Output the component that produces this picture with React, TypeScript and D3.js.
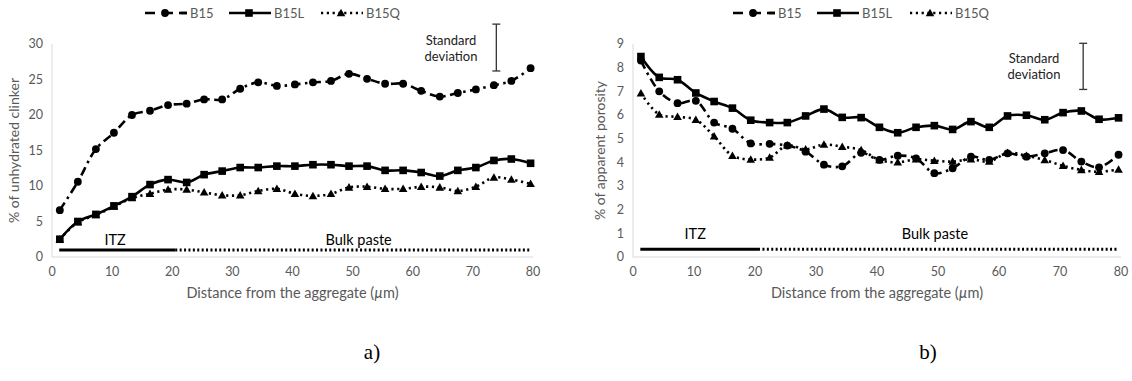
import React from "react";
import * as d3 from "d3";

// distances from the aggregate (µm)
const distances = [1.3, 4.3, 7.3, 10.3, 13.3, 16.3, 19.3, 22.4, 25.3, 28.3, 31.3, 34.3, 37.4, 40.4, 43.4, 46.4, 49.4, 52.4, 55.4, 58.4, 61.4, 64.5, 67.5, 70.5, 73.5, 76.4, 79.6];

// a) % of unhydrated clinker
const clinkerB15 = [6.6, 10.6, 15.2, 17.5, 20.0, 20.6, 21.4, 21.6, 22.2, 22.2, 23.7, 24.6, 24.1, 24.3, 24.6, 24.8, 25.8, 25.1, 24.4, 24.4, 23.4, 22.6, 23.1, 23.6, 24.2, 24.8, 26.6];
const clinkerB15L = [2.5, 5.0, 6.0, 7.2, 8.5, 10.2, 10.9, 10.5, 11.6, 12.1, 12.6, 12.6, 12.8, 12.8, 13.0, 13.0, 12.8, 12.8, 12.2, 12.2, 11.9, 11.4, 12.2, 12.6, 13.6, 13.8, 13.2];
const clinkerB15Q = [2.5, 4.9, 5.9, 7.1, 8.3, 8.9, 9.5, 9.5, 9.1, 8.7, 8.7, 9.3, 9.6, 8.9, 8.6, 8.9, 9.8, 9.9, 9.6, 9.6, 9.9, 9.8, 9.3, 9.9, 11.2, 10.9, 10.3];

// b) % of apparent porosity
const porosityB15 = [8.3, 7.0, 6.5, 6.6, 5.68, 5.42, 4.8, 4.78, 4.71, 4.45, 3.9, 3.83, 4.4, 4.1, 4.28, 4.17, 3.54, 3.75, 4.24, 4.1, 4.38, 4.24, 4.38, 4.52, 4.03, 3.79, 4.32];
const porosityB15L = [8.47, 7.59, 7.49, 6.93, 6.57, 6.29, 5.78, 5.68, 5.68, 5.96, 6.25, 5.9, 5.89, 5.48, 5.25, 5.48, 5.55, 5.39, 5.72, 5.48, 5.96, 5.99, 5.8, 6.1, 6.17, 5.82, 5.88];
const porosityB15Q = [6.92, 6.02, 5.92, 5.8, 5.1, 4.28, 4.12, 4.2, 4.72, 4.55, 4.75, 4.66, 4.52, 4.1, 4.0, 4.13, 4.07, 4.03, 4.13, 4.03, 4.4, 4.28, 4.1, 3.85, 3.68, 3.6, 3.7];

const seriesNames = ["B15", "B15L", "B15Q"];
const xTicks = [0, 10, 20, 30, 40, 50, 60, 70, 80];
const clinkerTicks = [0, 5, 10, 15, 20, 25, 30];
const porosityTicks = [0, 1, 2, 3, 4, 5, 6, 7, 8, 9];

const FONT = "Lato, 'Open Sans', sans-serif";
const GRAY = "#595959";
const AXIS = "#d9d9d9";

type Style = { dash: string; cap: "butt" | "round"; marker: "circle" | "square" | "triangle" };
const styles: Style[] = [
  { dash: "9 4.5 2.5 4.5", cap: "butt", marker: "circle" },
  { dash: "none", cap: "butt", marker: "square" },
  { dash: "2.2 3.6", cap: "butt", marker: "triangle" },
];

function Marker({ type, x, y }: { type: string; x: number; y: number }) {
  if (type === "circle") return <circle cx={x} cy={y} r={3.9} fill="#000" />;
  if (type === "square") return <rect x={x - 3.8} y={y - 3.8} width={7.6} height={7.6} fill="#000" />;
  const s = 4.3;
  return <path d={`M${x},${y - s}L${x + s},${y + s * 0.75}L${x - s},${y + s * 0.75}Z`} fill="#000" />;
}

type PanelProps = {
  x0: number; x1: number; yTop: number; yBot: number;
  yMax: number; yTicks: number[]; yTitle: string;
  data: number[][];
  legendX: number[];
  itzY: number; itzLabelX: number; bulkLabelX: number; labelY: number;
  sdX: number; sdLow: number; sdHigh: number; sdTextX: number; sdTextY: number;
  yTitleX: number; tag: string; tagX: number;
};

function Panel(p: PanelProps) {
  const x = d3.scaleLinear().domain([0, 80]).range([p.x0, p.x1]);
  const y = d3.scaleLinear().domain([0, p.yMax]).range([p.yBot, p.yTop]);
  const line = d3
    .line<number>()
    .x((_, i) => x(distances[i]))
    .y((d) => y(d))
    .curve(d3.curveCatmullRom.alpha(0.5));
  const legendY = 13;
  return (
    <g>
      <line x1={p.x0} x2={p.x0} y1={p.yTop} y2={p.yBot} stroke={AXIS} strokeWidth={1} />
      <line x1={p.x0} x2={p.x1} y1={p.yBot} y2={p.yBot} stroke={AXIS} strokeWidth={1} />
      {p.yTicks.map((t) => (
        <text key={"y" + t} x={p.x0 - 9} y={y(t)} dy="0.35em" textAnchor="end" fontSize={12.5} fill={GRAY} fontFamily={FONT}>
          {t}
        </text>
      ))}
      {xTicks.map((t) => (
        <text key={"x" + t} x={x(t)} y={p.yBot + 15} dy="0.35em" textAnchor="middle" fontSize={12.5} fill={GRAY} fontFamily={FONT}>
          {t}
        </text>
      ))}
      <text x={(p.x0 + p.x1) / 2} y={p.yBot + 36} dy="0.35em" textAnchor="middle" fontSize={14.5} fill={GRAY} fontFamily={FONT}>
        Distance from the aggregate (<tspan fontStyle="italic">µ</tspan>m)
      </text>
      <text
        transform={`translate(${p.yTitleX},${(p.yTop + p.yBot) / 2}) rotate(-90)`}
        dy="0.35em"
        textAnchor="middle"
        fontSize={14}
        fill={GRAY}
        fontFamily={FONT}
      >
        {p.yTitle}
      </text>

      <line x1={x(1.2)} x2={x(20.5)} y1={y(p.itzY)} y2={y(p.itzY)} stroke="#000" strokeWidth={3} />
      <line x1={x(20.5)} x2={x(79.6)} y1={y(p.itzY)} y2={y(p.itzY)} stroke="#000" strokeWidth={3} strokeDasharray="2 2.4" />
      <text x={x(p.itzLabelX)} y={y(p.labelY)} dy="0.35em" textAnchor="middle" fontSize={14.5} fill="#000" fontFamily={FONT}>
        ITZ
      </text>
      <text x={x(p.bulkLabelX)} y={y(p.labelY)} dy="0.35em" textAnchor="middle" fontSize={14.5} fill="#000" fontFamily={FONT}>
        Bulk paste
      </text>

      <g stroke="#333" strokeWidth={1.3}>
        <line x1={x(p.sdX)} x2={x(p.sdX)} y1={y(p.sdLow)} y2={y(p.sdHigh)} />
        <line x1={x(p.sdX) - 4} x2={x(p.sdX) + 4} y1={y(p.sdLow)} y2={y(p.sdLow)} />
        <line x1={x(p.sdX) - 4} x2={x(p.sdX) + 4} y1={y(p.sdHigh)} y2={y(p.sdHigh)} />
      </g>
      <text x={p.sdTextX} y={p.sdTextY} textAnchor="middle" fontSize={13} fill="#222" fontFamily={FONT}>
        <tspan x={p.sdTextX} dy="0">Standard</tspan>
        <tspan x={p.sdTextX} dy="16">deviation</tspan>
      </text>

      {p.data.map((vals, si) => (
        <g key={"s" + si}>
          <path
            d={line(vals) || ""}
            fill="none"
            stroke="#000"
            strokeWidth={2.6}
            strokeDasharray={styles[si].dash}
            strokeLinecap={styles[si].cap}
          />
          {vals.map((v, i) => (
            <Marker key={i} type={styles[si].marker} x={x(distances[i])} y={y(v)} />
          ))}
        </g>
      ))}

      {seriesNames.map((name, si) => {
        const lx = p.legendX[si];
        return (
          <g key={"l" + si}>
            <line x1={lx} x2={lx + 42} y1={legendY} y2={legendY} stroke="#000" strokeWidth={2.6} strokeDasharray={si === 0 ? "10 8 0 0" : styles[si].dash} />
            {si === 0 && <line x1={lx + 34} x2={lx + 42} y1={legendY} y2={legendY} stroke="#000" strokeWidth={2.6} />}
            <Marker type={styles[si].marker} x={lx + 20} y={legendY} />
            <text x={lx + 45} y={legendY} dy="0.35em" fontSize={13} fill={GRAY} fontFamily={FONT}>
              {name}
            </text>
          </g>
        );
      })}

      <text x={p.tagX} y={352} dy="0.35em" textAnchor="middle" fontSize={21} fill="#000" fontFamily="'Liberation Serif', 'DejaVu Serif', serif">
        {p.tag}
      </text>
    </g>
  );
}

export default function App() {
  return (
    <svg width={1132} height={381} style={{ position: "absolute", left: 0, top: 0, background: "#fff" }}>
      <rect width={1132} height={381} fill="#fff" />
      <Panel
        x0={52} x1={533} yTop={44} yBot={257}
        yMax={30} yTicks={clinkerTicks} yTitle="% of unhydrated clinker"
        data={[clinkerB15, clinkerB15L, clinkerB15Q]}
        legendX={[145, 229, 321]}
        itzY={1} itzLabelX={10.5} bulkLabelX={51} labelY={2.4}
        sdX={73.9} sdLow={26.2} sdHigh={32.8} sdTextX={451} sdTextY={45}
        yTitleX={14} tag="a)" tagX={372}
      />
      <Panel
        x0={633} x1={1121} yTop={44} yBot={257}
        yMax={9} yTicks={porosityTicks} yTitle="% of apparent porosity"
        data={[porosityB15, porosityB15L, porosityB15Q]}
        legendX={[733, 817, 910]}
        itzY={0.33} itzLabelX={10.2} bulkLabelX={49.5} labelY={0.98}
        sdX={73.8} sdLow={7.08} sdHigh={9.03} sdTextX={1034} sdTextY={63}
        yTitleX={600} tag="b)" tagX={928}
      />
    </svg>
  );
}
